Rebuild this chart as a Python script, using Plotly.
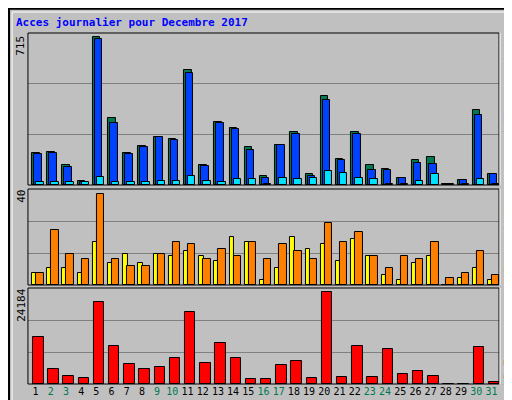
import plotly.graph_objects as go

days = list(range(1, 32))
weekend = [2, 3, 9, 10, 16, 17, 23, 24, 30, 31]
hits = [152, 157, 93, 20, 694, 317, 152, 185, 228, 218, 539, 96, 298, 270, 181, 44,
        190, 251, 53, 421, 124, 247, 93, 77, 35, 119, 134, 3, 25, 355, 53]
files = [148, 152, 86, 16, 685, 294, 148, 181, 228, 214, 529, 91, 294, 265, 167, 35,
         190, 242, 44, 402, 119, 242, 72, 72, 35, 105, 101, 3, 25, 327, 53]
pages = [13, 16, 13, 13, 39, 16, 16, 16, 20, 20, 44, 20, 16, 30, 30, 3,
         35, 30, 35, 68, 58, 35, 30, 3, 3, 20, 53, 3, 3, 30, 3]
visites = [5, 7, 7, 5, 18, 9, 13, 9, 13, 12, 14, 12, 10, 20, 18, 2,
           7, 20, 15, 17, 10, 19, 12, 4, 2, 9, 12, 0, 3, 7, 2]
sites = [5, 23, 13, 11, 38, 11, 8, 8, 13, 18, 17, 11, 15, 12, 18, 11,
         17, 14, 11, 26, 18, 22, 12, 7, 12, 11, 18, 3, 5, 14, 4]
kb = [11760, 3890, 2115, 1600, 20640, 9475, 5160, 3890, 4400, 6430, 18100, 5415, 10240, 6430, 1355, 1355,
      4905, 5670, 1600, 23180, 1860, 9475, 1860, 8715, 2620, 3385, 2115, 100, 100, 9220, 590]
max_top = 715
max_mid = 40
max_bot = 24184

fig = go.Figure()
line = dict(color='black', width=1)

def bars(y, color, offset, width, yaxis):
    fig.add_trace(go.Bar(x=days, y=y, offset=offset, width=width, yaxis=yaxis,
                         marker=dict(color=color, line=line), showlegend=False,
                         hoverinfo='skip'))

bars(hits, '#007850', -0.23, 0.49, 'y')
bars(files, '#0040ff', -0.10, 0.49, 'y')
bars(pages, '#00e0ff', 0.03, 0.49, 'y')
bars(visites, '#ffff00', -0.23, 0.30, 'y2')
bars(sites, '#ff8000', 0.03, 0.49, 'y2')
bars(kb, '#ff0000', -0.17, 0.69, 'y3')

xd = [0.039, 0.959]
ticktext = [f"<span style='color:{'#007850' if d in weekend else 'black'}'>{d}</span>" for d in days]
xcommon = dict(range=[0.5, 31.5], showgrid=False, zeroline=False, ticks='', showline=False, domain=xd)
ycommon = dict(showticklabels=False, zeroline=False, showline=False, gridcolor='#808080', gridwidth=1, ticks='')

fig.update_layout(
    width=512, height=400, autosize=False,
    margin=dict(l=0, r=0, t=0, b=0),
    paper_bgcolor='#c0c0c0', plot_bgcolor='#c0c0c0',
    barmode='overlay', bargap=0,
    font=dict(family='DejaVu Sans Mono', size=11, color='black'),
    xaxis=dict(xcommon, anchor='y3', tickvals=days, ticktext=ticktext, showticklabels=True,
               tickangle=0, tickfont=dict(size=10)),
    yaxis=dict(ycommon, domain=[0.5575, 0.9375], range=[0, max_top], dtick=max_top / 3),
    yaxis2=dict(ycommon, domain=[0.3075, 0.5475], range=[0, max_mid], dtick=max_mid / 3),
    yaxis3=dict(ycommon, domain=[0.06, 0.30], range=[0, max_bot], dtick=max_bot / 3),
)

# frames
shapes = [
    dict(type='rect', xref='paper', yref='paper', x0=0.002, x1=0.998, y0=0.002, y1=0.998,
         line=dict(color='black', width=2)),
    dict(type='rect', xref='paper', yref='paper', x0=0.008, x1=0.99, y0=0.01, y1=0.99,
         line=dict(color='white', width=1)),
]
for d in [[0.5575, 0.9375], [0.3075, 0.5475], [0.06, 0.30]]:
    shapes.append(dict(type='rect', xref='paper', yref='paper', x0=xd[0], x1=xd[1], y0=d[0], y1=d[1],
                       line=dict(color='black', width=1)))
    shapes.append(dict(type='line', xref='paper', yref='paper', x0=xd[1] + 0.002, x1=xd[1] + 0.002,
                       y0=d[0], y1=d[1], line=dict(color='white', width=1)))
fig.update_layout(shapes=shapes)

ann = [
    dict(text='<b>Acces journalier pour Decembre 2017</b>', x=0.012, y=0.985, xanchor='left', yanchor='top',
         font=dict(color='#0000ff', size=11)),
    dict(text=str(max_top), x=0.025, y=0.905, textangle=-90),
    dict(text=str(max_mid), x=0.025, y=0.53, textangle=-90),
    dict(text=str(max_bot), x=0.025, y=0.2575, textangle=-90),
    dict(text="<span style='color:#00e0ff'>Pages</span> / <span style='color:#0040ff'>Fichiers</span> / "
              "<span style='color:#007850'>Hits</span>", x=0.977, y=0.77, textangle=-90),
    dict(text="<span style='color:#ff8000'>Sites</span> / <span style='color:#ffff00'>Visites</span>",
         x=0.977, y=0.46, textangle=-90),
    dict(text="<span style='color:#ff0000'>kB F</span>", x=0.977, y=0.0875, textangle=-90),
]
for a in ann:
    a.update(xref='paper', yref='paper', showarrow=False)
    a.setdefault('xanchor', 'center')
    a.setdefault('yanchor', 'middle')
fig.update_layout(annotations=ann)

fig.write_html("out.html")
